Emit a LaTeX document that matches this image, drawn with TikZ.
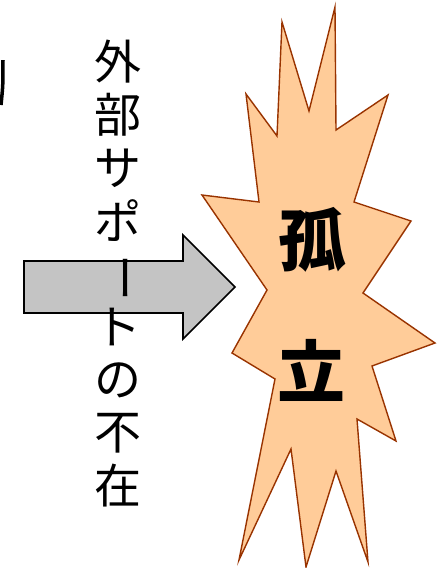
\documentclass[tikz,border=0pt]{standalone}
\usepackage{fontspec}
\newfontfamily\jpfont{Noto Sans CJK JP}
\newfontfamily\jpblack{Noto Sans CJK JP Black}
\definecolor{peach}{HTML}{FFCC99}
\definecolor{rust}{HTML}{993300}
\definecolor{arrowgray}{HTML}{C4C4C4}
\begin{document}
\begin{tikzpicture}[x=1pt,y=-1pt,
  vchar/.style={inner sep=0pt, font=\jpfont\fontsize{47}{47}\selectfont},
  bigchar/.style={inner sep=0pt, font=\jpblack\fontsize{68}{68}\selectfont},
  burst/.style={fill=peach, draw=rust, line width=1.4pt, line join=miter},
  fatarrow/.style={fill=arrowgray, draw=black, line width=1.6pt}]
\useasboundingbox (0,0) rectangle (438,568);
% partial stroke at left edge
\draw[line width=3.5pt] (3,60) .. controls (3,85) .. (1,105);
% block arrow
\draw[fatarrow] (24,261) -- (183,261) -- (183,235) -- (235,287) -- (183,339) -- (183,313) -- (24,313) -- cycle;
% burst
\draw[burst] (335,7) -- (336,130) -- (388,95) -- (354,202) -- (411,221) -- (363,293)
  -- (435,343) -- (372,366) -- (396,441) -- (357,419) -- (368,562) -- (336,471)
  -- (306,567) -- (291,449) -- (239,560) -- (275,379) -- (232,353) -- (267,290)
  -- (202,195) -- (259,202) -- (246,94) -- (277,136) -- (282,22) -- (309,111) -- cycle;
\node[bigchar] (ko) at (312,240) {孤};
\node[bigchar] (ritsu) at (311,370) {立};
% vertical text
\node[vchar] (v0) at (118,62) {外};
\node[vchar] (v1) at (118,115) {部};
\node[vchar] (v2) at (118,168) {サ};
\node[vchar] (v3) at (118,221) {ポ};
\node[vchar, rotate=-90] (v4) at (118,278) {ー};
\node[vchar] (v5) at (118,327) {ト};
\node[vchar] (v6) at (118,380) {の};
\node[vchar] (v7) at (118,433) {不};
\node[vchar] (v8) at (118,486) {在};
\end{tikzpicture}
\end{document}
